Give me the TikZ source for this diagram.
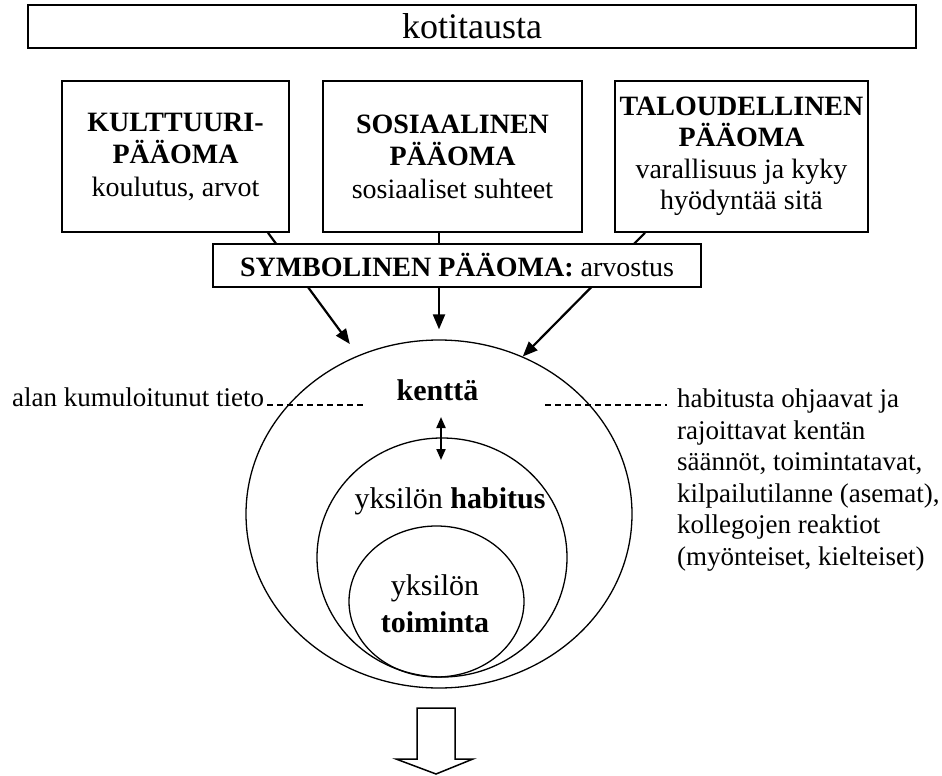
\documentclass[tikz,border=0pt]{standalone}
\usepackage{fontspec}
\setmainfont{Liberation Serif}
\usetikzlibrary{arrows.meta,shapes.geometric}
\begin{document}
\begin{tikzpicture}[x=1pt,y=-1pt,
  box/.style={draw,line width=1.6pt,fill=white,inner sep=0pt,align=center,font=\fontsize{28}{32.5}\selectfont},
  ring/.style={draw,ellipse,line width=1.3pt,inner sep=0pt},
  feed/.style={line width=2.2pt,-{Triangle[length=15pt,width=12pt]}},
  dbl/.style={line width=2pt,{Triangle[length=11pt,width=9pt]}-{Triangle[length=11pt,width=9pt]}},
  dashline/.style={line width=2pt,dash pattern=on 6pt off 4pt},
  txt/.style={inner sep=0pt,font=\fontsize{27}{31.5}\selectfont},
  big/.style={inner sep=0pt,font=\fontsize{30}{37}\selectfont}
]
\useasboundingbox (0,0) rectangle (942,776);

% top boxes
\node[box,minimum width=888pt,minimum height=43pt,font=\fontsize{36}{38}\selectfont] (home) at (472,26.5) {kotitausta};
\node[box,minimum width=227pt,minimum height=151pt] (cult) at (175.5,156.5) {\textbf{KULTTUURI-}\\\textbf{PÄÄOMA}\\koulutus, arvot};
\node[box,minimum width=259pt,minimum height=151pt] (soc) at (452.5,156.5) {\textbf{SOSIAALINEN}\\\textbf{PÄÄOMA}\\sosiaaliset suhteet};
\node[box,minimum width=253pt,minimum height=151pt,font=\fontsize{28}{31.5}\selectfont] (econ) at (741.5,156.5) {\textbf{TALOUDELLINEN}\\\textbf{PÄÄOMA}\\varallisuus ja kyky\\hyödyntää sitä};

% rings
\node[ring,minimum width=386pt,minimum height=348pt] (field) at (439,514) {};
\node[ring,minimum width=250pt,minimum height=239pt] (hab) at (442,557.5) {};
\node[ring,minimum width=175pt,minimum height=151pt] (act) at (436.5,601.5) {};

% arrows into the field
\draw[feed,shorten >=14pt] ([xshift=92.5pt]cult.south) -- (field.117);
\draw[feed,shorten >=10pt] (soc.south -| field.north) -- (field.north);
\draw[feed] ([xshift=-96.5pt]econ.south) -- (field.62);

% symbolic capital box (covers the arrows)
\node[box,minimum width=488pt,minimum height=43pt] (symb) at (457,265.5) {\textbf{SYMBOLINEN PÄÄOMA:} arvostus};

% texts in the rings
\node[big,anchor=base,font=\fontsize{30}{34}\selectfont\bfseries] (kentta) at (437.5,400) {kenttä};
\node[big,anchor=base] (habtxt) at (450,508) {yksilön \textbf{habitus}};
\node[big,align=center] (acttxt) at (435,604) {yksilön\\\textbf{toiminta}};

\coordinate (d1) at (441,417);
\coordinate (d2) at (441,460);
\draw[dbl] (d1) -- (d2);

% side texts
\node[txt,anchor=base west] (alan) at (12,406) {alan kumuloitunut tieto};
\coordinate (l1) at (267,405);
\coordinate (l2) at (363,405);
\draw[dashline] (l1) -- (l2);

\node[txt,anchor=base west,align=left] (rules) at (677,565) {habitusta ohjaavat ja\\rajoittavat kentän\\säännöt, toimintatavat,\\kilpailutilanne (asemat),\\kollegojen reaktiot\\(myönteiset, kielteiset)};
\coordinate (r1) at (545,405);
\coordinate (r2) at (667,405);
\draw[dashline] (r1) -- (r2);

% outcome block arrow
\draw[line width=1.5pt,line join=miter] (417,708) coordinate (b1) -- (455,708) -- (455,759) -- (473,759) -- (436,774) -- (396,759) -- (417,759) -- cycle;
\end{tikzpicture}
\end{document}
